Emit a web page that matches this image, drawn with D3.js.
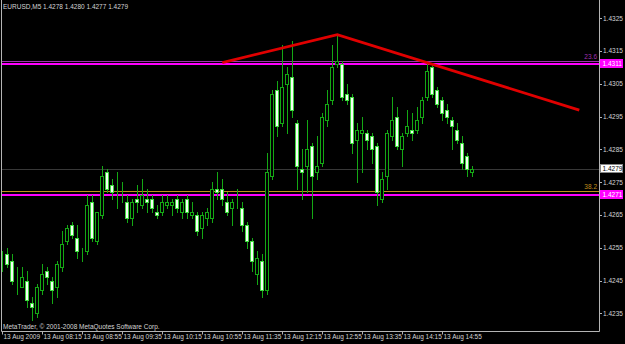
<!DOCTYPE html>
<html>
<head>
<meta charset="utf-8">
<script src="https://d3js.org/d3.v7.min.js"></script>
<style>
  body { margin: 0; background: #000; }
  svg { display: block; background: #000; }
  text { font-family: "Liberation Sans", Arial, sans-serif; font-size: 6.5px; fill: #d4d4d4; }
</style>
</head>
<body>
<script>
// chart data, EURUSD M5, 13 Aug 2009 from 07:35
const title = "EURUSD,M5  1.4278 1.4280 1.4277 1.4279";
const opens = [1.4252,1.4253,1.4251,1.4244,1.4243,1.4245,1.4238,1.4235,1.4242,1.4248,
  1.4245,1.4243,1.4249,1.4257,1.4262,1.4258,1.4253,1.4254,1.4269,1.4257,
  1.4265,1.4278,1.4274,1.4271,1.4270,1.4269,1.4264,1.4270,1.4268,1.4270,
  1.4270,1.4266,1.4266,1.4268,1.4268,1.4270,1.4266,1.4270,1.4265,1.4265,
  1.4261,1.4264,1.4264,1.4273,1.4273,1.4269,1.4267,1.4268,1.4267,1.4262,
  1.4257,1.4247,1.4251,1.4242,1.4277,1.4303,1.4293,1.4305,1.4307,1.4293,
  1.4279,1.4280,1.4286,1.4278,1.4281,1.4294,1.4300,1.4311,1.4311,1.4302,
  1.4301,1.4288,1.4290,1.4290,1.4289,1.4286,1.4270,1.4277,1.4289,1.4295,
  1.4285,1.4290,1.4291,1.4291,1.4295,1.4301,1.4310,1.4303,1.4300,1.4297,
  1.4294,1.4291,1.4287,1.4283,1.4278];
const highs = [1.4254,1.4255,1.4253,1.4249,1.4249,1.4248,1.4240,1.4244,1.4250,1.4249,
  1.4246,1.4251,1.4260,1.4262,1.4263,1.4262,1.4255,1.4271,1.4271,1.4266,
  1.4280,1.4279,1.4276,1.4278,1.4275,1.4271,1.4270,1.4274,1.4276,1.4273,
  1.4271,1.4268,1.4271,1.4271,1.4270,1.4271,1.4270,1.4271,1.4269,1.4266,
  1.4266,1.4267,1.4275,1.4278,1.4276,1.4272,1.4270,1.4273,1.4269,1.4263,
  1.4258,1.4254,1.4253,1.4284,1.4303,1.4306,1.4317,1.4310,1.4318,1.4294,
  1.4285,1.4294,1.4287,1.4289,1.4296,1.4303,1.4317,1.4320,1.4312,1.4305,
  1.4302,1.4293,1.4295,1.4291,1.4290,1.4287,1.4278,1.4291,1.4301,1.4298,
  1.4290,1.4297,1.4296,1.4298,1.4301,1.4311,1.4311,1.4304,1.4301,1.4299,
  1.4295,1.4293,1.4289,1.4284,1.4280];
const lows = [1.4248,1.4249,1.4244,1.4241,1.4243,1.4237,1.4233,1.4234,1.4241,1.4244,
  1.4238,1.4240,1.4248,1.4256,1.4258,1.4252,1.4251,1.4253,1.4257,1.4256,
  1.4264,1.4272,1.4270,1.4267,1.4269,1.4263,1.4262,1.4266,1.4267,1.4266,
  1.4266,1.4264,1.4265,1.4267,1.4265,1.4266,1.4264,1.4264,1.4264,1.4259,
  1.4258,1.4262,1.4263,1.4270,1.4268,1.4265,1.4262,1.4267,1.4260,1.4255,
  1.4248,1.4244,1.4240,1.4241,1.4276,1.4289,1.4292,1.4290,1.4295,1.4273,
  1.4270,1.4272,1.4264,1.4276,1.4280,1.4292,1.4299,1.4310,1.4300,1.4299,
  1.4284,1.4275,1.4278,1.4285,1.4281,1.4268,1.4269,1.4273,1.4288,1.4285,
  1.4280,1.4289,1.4288,1.4290,1.4293,1.4300,1.4301,1.4298,1.4294,1.4293,
  1.4285,1.4287,1.4279,1.4277,1.4277];
const closes = [1.4252,1.4250,1.4245,1.4244,1.4246,1.4239,1.4237,1.4243,1.4247,1.4246,
  1.4242,1.4250,1.4256,1.4261,1.4259,1.4254,1.4253,1.4268,1.4258,1.4266,
  1.4277,1.4273,1.4272,1.4271,1.4270,1.4264,1.4269,1.4269,1.4271,1.4269,
  1.4267,1.4265,1.4269,1.4269,1.4269,1.4267,1.4269,1.4266,1.4266,1.4260,
  1.4265,1.4266,1.4273,1.4272,1.4270,1.4266,1.4269,1.4268,1.4262,1.4257,
  1.4251,1.4252,1.4242,1.4278,1.4302,1.4292,1.4304,1.4308,1.4297,1.4280,
  1.4278,1.4285,1.4277,1.4280,1.4295,1.4299,1.4310,1.4312,1.4301,1.4300,
  1.4287,1.4291,1.4291,1.4288,1.4285,1.4272,1.4276,1.4290,1.4294,1.4286,
  1.4289,1.4292,1.4290,1.4294,1.4300,1.4309,1.4302,1.4299,1.4296,1.4295,
  1.4292,1.4288,1.4281,1.4279,1.4279];

const timeLabels = ["13 Aug 2009","13 Aug 08:15","13 Aug 08:55","13 Aug 09:35","13 Aug 10:15","13 Aug 10:55",
  "13 Aug 11:35","13 Aug 12:15","13 Aug 12:55","13 Aug 13:35","13 Aug 14:15","13 Aug 14:55"];
const timeLabelBars = [0,8,16,24,32,40,48,56,64,72,80,88];
const priceTicks = [1.4325,1.4315,1.4305,1.4295,1.4285,1.4275,1.4265,1.4255,1.4245,1.4235];

// drawn objects
const trendBars = [44, 67, 115.4];
const trendPrices = [1.43115, 1.4320, 1.4297];
const fibPrices = [1.43121, 1.42722];
const fibNames = ["23.6", "38.2"];
const hlinePrices = [1.43112, 1.42712];
const bidPrice = 1.4279;

const width = 625, height = 344;
const left = 1.5, right = 599.5, bottom = 331.5;

const svg = d3.select("body").append("svg")
  .attr("width", width).attr("height", height);

const x = d3.scaleLinear().domain([0, 94]).range([2.3, 472.3]);
const y = d3.scaleLinear().domain([1.4235, 1.4325]).range([313.3, 18.3]);
const px = v => Math.round(v) + 0.5;

const bars = opens.map((o, i) => ({ i: i, o: o, h: highs[i], l: lows[i], c: closes[i] }));

// fib levels (thin) and horizontal lines (magenta)
const fibColors = ["#a030b0", "#c0901c"];
svg.selectAll("line.fib").data(fibPrices).enter().append("line")
  .attr("x1", left).attr("x2", right)
  .attr("y1", d => px(y(d))).attr("y2", d => px(y(d)))
  .attr("stroke", (d, i) => fibColors[i]).attr("stroke-width", 1);

svg.selectAll("line.hl").data(hlinePrices).enter().append("line")
  .attr("x1", left).attr("x2", right)
  .attr("y1", d => Math.round(y(d))).attr("y2", d => Math.round(y(d)))
  .attr("stroke", "#ff00ff").attr("stroke-width", 2);

// bid line
svg.append("line")
  .attr("x1", left).attr("x2", right)
  .attr("y1", px(y(bidPrice))).attr("y2", px(y(bidPrice)))
  .attr("stroke", "#707070").attr("stroke-dasharray", "1,1");

// candles
const g = svg.append("g");
g.selectAll("line.wick").data(bars).enter().append("line")
  .attr("x1", d => px(x(d.i))).attr("x2", d => px(x(d.i)))
  .attr("y1", d => Math.round(y(d.h))).attr("y2", d => Math.round(y(d.l)) + 1)
  .attr("stroke", "#14a814").attr("stroke-width", 1);

g.selectAll("rect.body").data(bars).enter().append("rect")
  .attr("x", d => Math.round(x(d.i)) - 1.5)
  .attr("width", 3)
  .attr("y", d => px(y(Math.max(d.o, d.c))))
  .attr("height", d => Math.max(0, px(y(Math.min(d.o, d.c))) - px(y(Math.max(d.o, d.c)))))
  .attr("fill", d => d.c < d.o ? "#f4fff4" : "#000")
  .attr("stroke", d => d.c < d.o ? "#3ed83e" : "#14a814")
  .attr("stroke-width", 1);

// trend line
const trend = d3.line().x(d => x(d[0])).y(d => y(d[1]));
svg.append("path")
  .attr("d", trend(trendBars.map((b, i) => [b, trendPrices[i]])))
  .attr("fill", "none").attr("stroke", "#e00000").attr("stroke-width", 2.8);

// fib level names
svg.selectAll("text.fibname").data(fibPrices).enter().append("text")
  .attr("x", 597).attr("y", d => y(d) - 2)
  .attr("text-anchor", "end")
  .style("fill", (d, i) => fibColors[i])
  .text((d, i) => fibNames[i]);

// frame
svg.append("path")
  .attr("d", `M${left},0V${bottom}H${right}V0`)
  .attr("fill", "none").attr("stroke", "#b4b4b4");

// price axis
const yAxis = svg.append("g");
yAxis.selectAll("line").data(priceTicks).enter().append("line")
  .attr("x1", right).attr("x2", right + 2.5)
  .attr("y1", d => px(y(d))).attr("y2", d => px(y(d)))
  .attr("stroke", "#b4b4b4");
yAxis.selectAll("text").data(priceTicks).enter().append("text")
  .attr("x", 603).attr("y", d => y(d) + 2.4)
  .text(d => d.toFixed(4));

// price tags
const fmt = d3.format(".4f");
const tags = hlinePrices.map(p => ({ p: p, fill: "#ff00ff", txt: "#ffffff" }))
  .concat([{ p: bidPrice, fill: "#ffffff", txt: "#000000" }]);
const tg = svg.selectAll("g.tag").data(tags).enter().append("g");
tg.append("rect")
  .attr("x", 600.5).attr("y", d => Math.round(y(d.p)) - 4.5)
  .attr("width", 22).attr("height", 8)
  .attr("fill", d => d.fill).attr("stroke", d => d.fill === "#ffffff" ? "#888" : d.fill);
tg.append("text")
  .attr("x", 602.5).attr("y", d => Math.round(y(d.p)) + 2.3)
  .style("fill", d => d.txt)
  .text(d => fmt(d.p));

// time axis
const xAxis = svg.append("g");
xAxis.selectAll("line").data(timeLabelBars).enter().append("line")
  .attr("x1", d => px(x(d))).attr("x2", d => px(x(d)))
  .attr("y1", bottom).attr("y2", bottom + 3)
  .attr("stroke", "#b4b4b4");
xAxis.selectAll("text").data(timeLabelBars).enter().append("text")
  .attr("x", d => Math.round(x(d)) + 1.5).attr("y", 339)
  .text((d, i) => timeLabels[i]);

// captions
svg.append("text").attr("x", 3).attr("y", 8.5).text(title);
svg.append("text").attr("x", 3).attr("y", 329)
  .text("MetaTrader, \u00a9 2001-2008 MetaQuotes Software Corp.");
</script>
</body>
</html>
